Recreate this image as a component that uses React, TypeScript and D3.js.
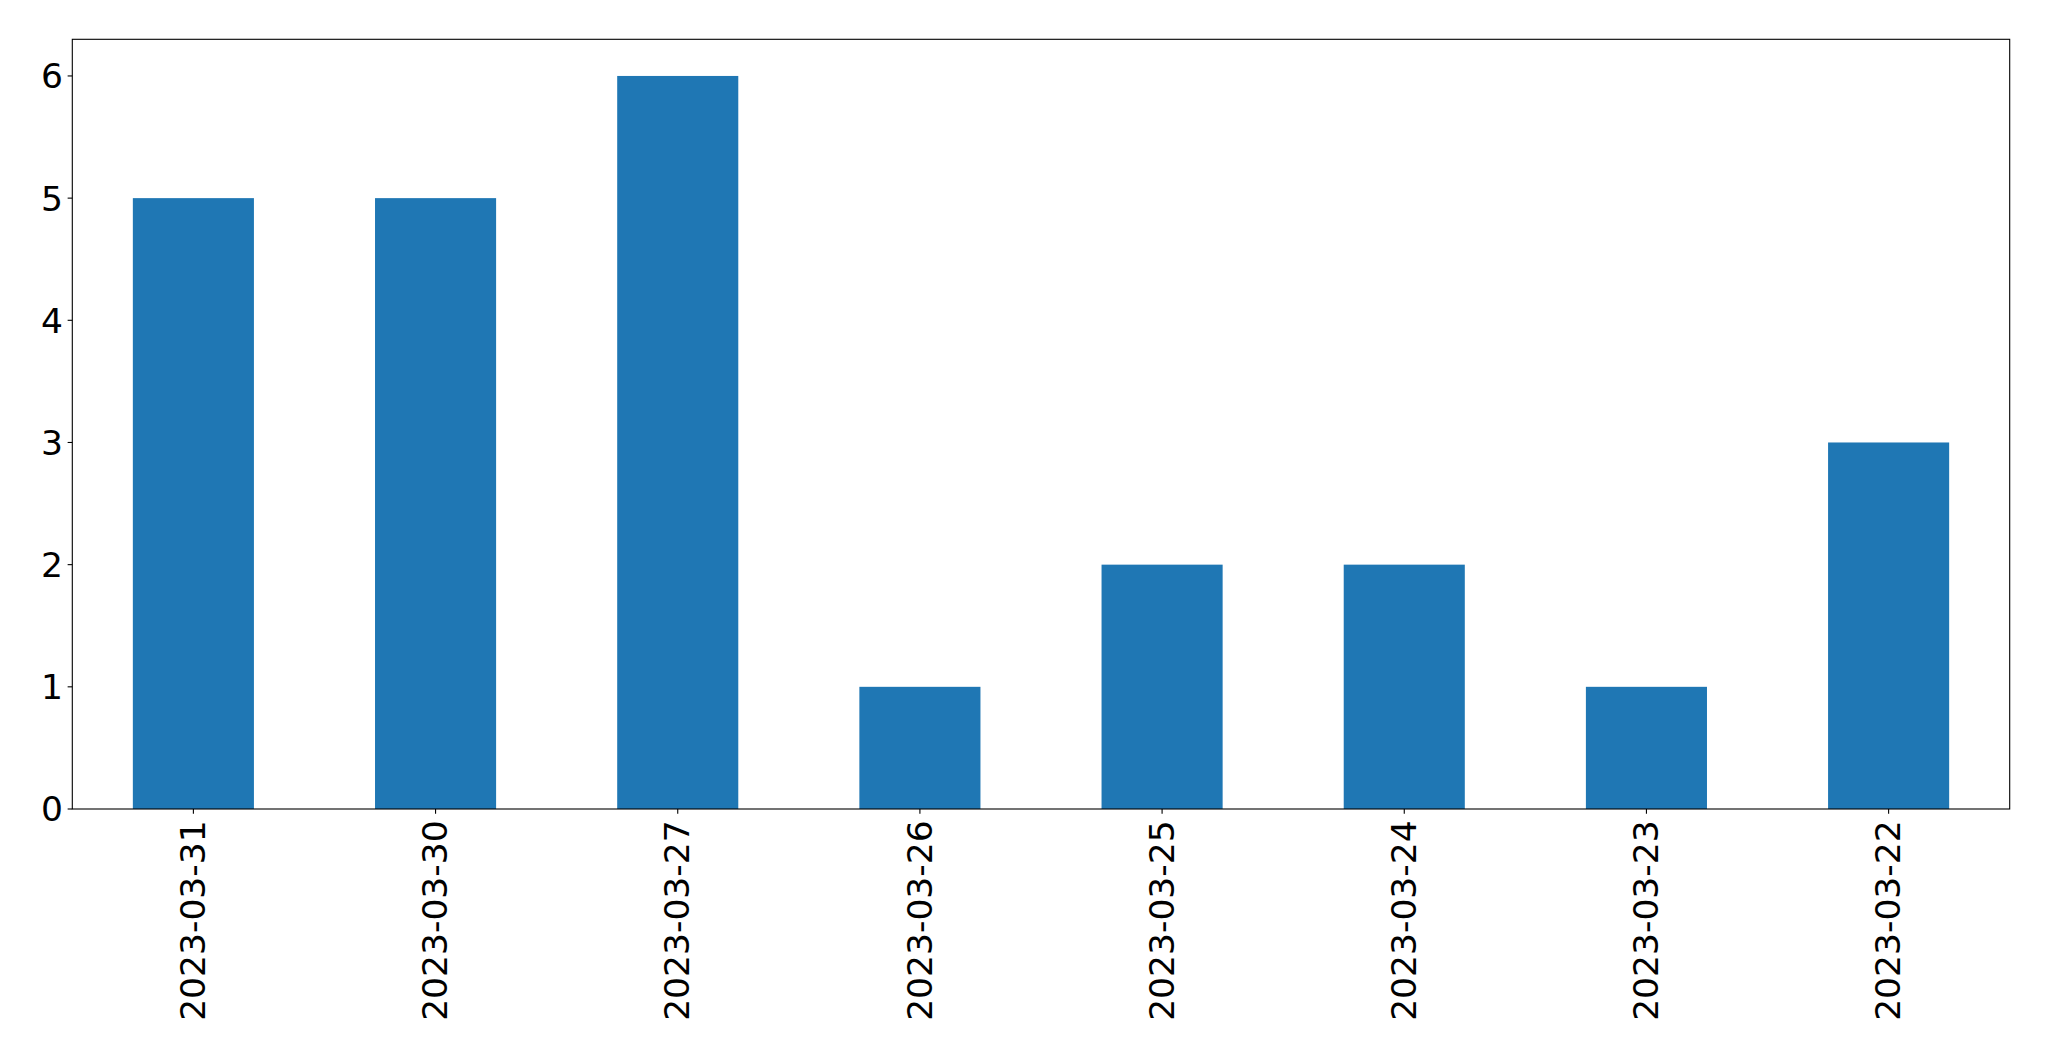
import React from "react";
import * as d3 from "d3";

const categories: string[] = [
  "2023-03-31",
  "2023-03-30",
  "2023-03-27",
  "2023-03-26",
  "2023-03-25",
  "2023-03-24",
  "2023-03-23",
  "2023-03-22",
];
const values: number[] = [5, 5, 6, 1, 2, 2, 1, 3];
const yTicks: number[] = [0, 1, 2, 3, 4, 5, 6];

const W = 2049;
const H = 1061;
const left = 72.3;
const right = 2009.7;
const top = 39.3;
const bottom = 809;
const fontSize = 34.5;
const tickLen = 4.67;
const pad = 4.67;

export default function App() {
  const x = d3
    .scaleLinear()
    .domain([-0.5, categories.length - 0.5])
    .range([left, right]);
  const y = d3.scaleLinear().domain([0, 6.3]).range([bottom, top]);
  const bw = x(0.25) - x(-0.25);

  return (
    <svg
      width={W}
      height={H}
      style={{ position: "absolute", left: 0, top: 0, background: "#fff" }}
      fontFamily="DejaVu Sans"
    >
      <rect x={0} y={0} width={W} height={H} fill="#fff" />
      {values.map((v, i) => (
        <rect
          key={i}
          x={x(i) - bw / 2}
          y={y(v)}
          width={bw}
          height={y(0) - y(v)}
          fill="#1f77b4"
        />
      ))}
      <rect
        x={left}
        y={top}
        width={right - left}
        height={bottom - top}
        fill="none"
        stroke="#000"
        strokeWidth={1.1}
      />
      {yTicks.map((t) => (
        <g key={t}>
          <line x1={left - tickLen} x2={left} y1={y(t)} y2={y(t)} stroke="#000" strokeWidth={1.1} />
          <text
            x={left - tickLen - pad}
            y={y(t)}
            dy="0.36em"
            textAnchor="end"
            fontSize={fontSize}
            fill="#000"
          >
            {t}
          </text>
        </g>
      ))}
      {categories.map((c, i) => (
        <g key={c}>
          <line x1={x(i)} x2={x(i)} y1={bottom} y2={bottom + tickLen} stroke="#000" strokeWidth={1.1} />
          <text
            transform={`translate(${x(i)},${bottom + tickLen + pad + 2}) rotate(-90)`}
            dy="0.34em"
            textAnchor="end"
            fontSize={fontSize}
            fill="#000"
          >
            {c}
          </text>
        </g>
      ))}
    </svg>
  );
}
